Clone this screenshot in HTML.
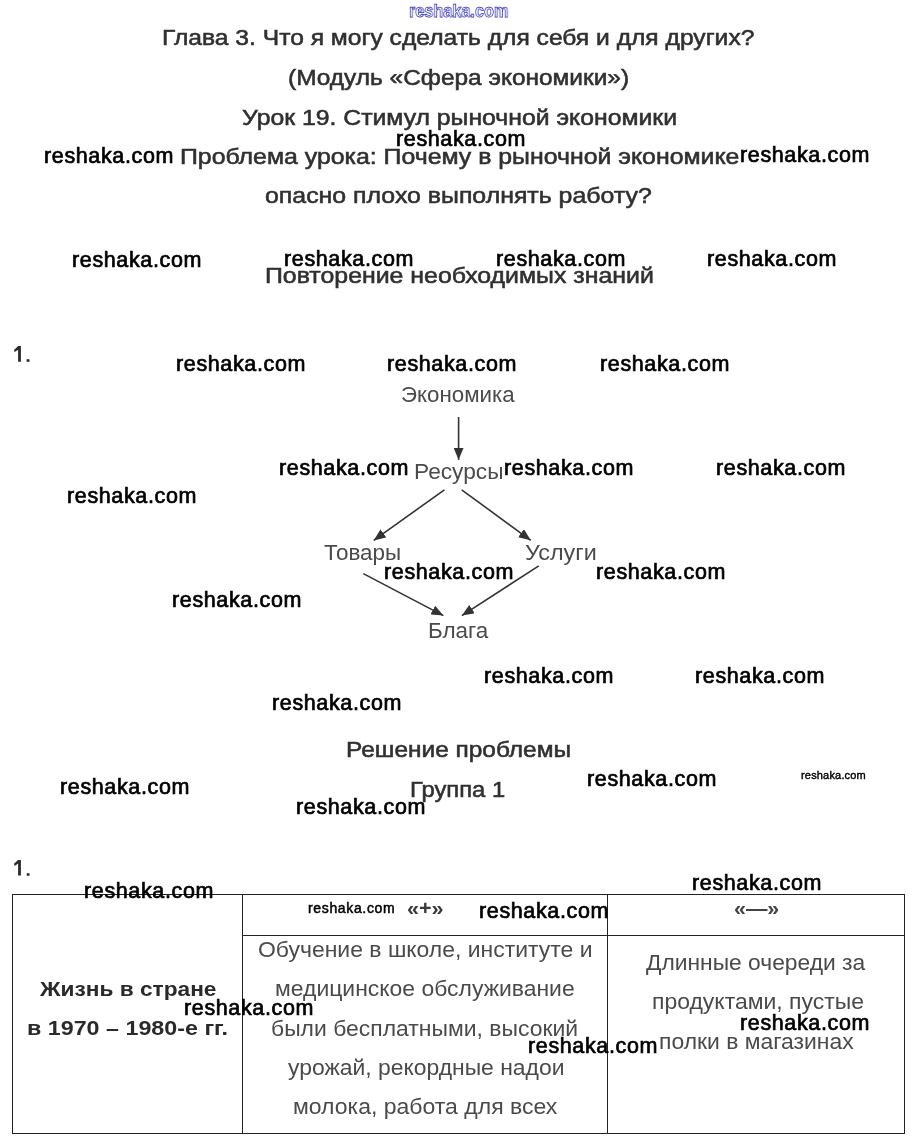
<!DOCTYPE html>
<html><head><meta charset="utf-8"><title>Урок 19. Стимул рыночной экономики</title>
<style>
html,body{margin:0;padding:0;background:#fff;}
body{width:915px;height:1144px;position:relative;overflow:hidden;font-family:"Liberation Sans",sans-serif;}
.t{position:absolute;white-space:pre;transform-origin:0 0;will-change:transform;}
.g{position:absolute;left:0;top:0;}
</style></head><body>
<svg class="g" width="915" height="1144" viewBox="0 0 915 1144">
<defs><marker id="ah" viewBox="0 0 12 10" refX="12" refY="5" markerWidth="12" markerHeight="10" markerUnits="userSpaceOnUse" orient="auto"><path d="M0,0 L12,5 L0,10 z" fill="#333"/></marker></defs>
<g stroke="#333" stroke-width="1.6" fill="none" marker-end="url(#ah)">
<line x1="458.6" y1="417" x2="458.6" y2="459.8"/>
<line x1="444.4" y1="489.8" x2="373.7" y2="540.4"/>
<line x1="461.7" y1="489.8" x2="530.7" y2="540.3"/>
<line x1="363.3" y1="573.6" x2="443.4" y2="615.6"/>
<line x1="538.8" y1="565.9" x2="461.9" y2="615.6"/>
</g>
<g fill="#222">
<rect x="12" y="894" width="893" height="1"/>
<rect x="12" y="1133" width="893" height="1"/>
<rect x="12" y="894" width="1" height="240"/>
<rect x="904" y="894" width="1" height="240"/>
<rect x="242" y="894" width="1" height="240"/>
<rect x="607" y="894" width="1" height="240"/>
<rect x="242" y="935" width="663" height="1"/>
</g>
<g fill="#2a2a2a">
<path d="M18.1,346 L20.9,346 L20.9,361.7 L18.1,361.7 L18.1,349.7 L14.7,352.1 L14.0,349.9 Z"/>
<rect x="26.6" y="359.2" width="2.9" height="2.6"/>
<path transform="translate(0,513.9)" d="M18.1,346 L20.9,346 L20.9,361.7 L18.1,361.7 L18.1,349.7 L14.7,352.1 L14.0,349.9 Z"/>
<rect x="26.8" y="873.2" width="2.7" height="2.6"/>
</g>
</svg>
<div class="t" style="left:161.88px;top:27.00px;font-size:22px;line-height:22px;color:#303030;transform:scaleX(1.1193);-webkit-text-stroke:0.55px #303030;">Глава 3. Что я могу сделать для себя и для других?</div>
<div class="t" style="left:288.39px;top:67.00px;font-size:22px;line-height:22px;color:#303030;transform:scaleX(1.1108);-webkit-text-stroke:0.55px #303030;">(Модуль «Сфера экономики»)</div>
<div class="t" style="left:241.50px;top:106.70px;font-size:22px;line-height:22px;color:#303030;transform:scaleX(1.1262);-webkit-text-stroke:0.55px #303030;">Урок 19. Стимул рыночной экономики</div>
<div class="t" style="left:179.87px;top:145.60px;font-size:22px;line-height:22px;color:#303030;transform:scaleX(1.1296);-webkit-text-stroke:0.55px #303030;">Проблема урока: Почему в рыночной экономике</div>
<div class="t" style="left:265.00px;top:185.30px;font-size:22px;line-height:22px;color:#303030;transform:scaleX(1.1307);-webkit-text-stroke:0.55px #303030;">опасно плохо выполнять работу?</div>
<div class="t" style="left:265.17px;top:264.60px;font-size:22px;line-height:22px;color:#303030;transform:scaleX(1.1304);-webkit-text-stroke:0.55px #303030;">Повторение необходимых знаний</div>
<div class="t" style="left:400.99px;top:383.80px;font-size:22px;line-height:22px;color:#4a4a4a;transform:scaleX(1.0150);">Экономика</div>
<div class="t" style="left:413.97px;top:461.20px;font-size:22px;line-height:22px;color:#4a4a4a;transform:scaleX(1.0314);">Ресурсы</div>
<div class="t" style="left:323.80px;top:542.30px;font-size:22px;line-height:22px;color:#4a4a4a;transform:scaleX(1.0205);">Товары</div>
<div class="t" style="left:524.80px;top:542.20px;font-size:22px;line-height:22px;color:#4a4a4a;transform:scaleX(1.0608);">Услуги</div>
<div class="t" style="left:427.68px;top:620.40px;font-size:22px;line-height:22px;color:#4a4a4a;transform:scaleX(1.0203);">Блага</div>
<div class="t" style="left:345.89px;top:738.70px;font-size:22px;line-height:22px;color:#303030;transform:scaleX(1.1105);-webkit-text-stroke:0.55px #303030;">Решение проблемы</div>
<div class="t" style="left:410.12px;top:778.60px;font-size:22px;line-height:22px;color:#303030;transform:scaleX(1.0801);-webkit-text-stroke:0.55px #303030;">Группа 1</div>
<div class="t" style="left:406.60px;top:897.30px;font-size:21px;line-height:21px;font-weight:bold;color:#3a3a3a;transform:scaleX(1.0274);">«+»</div>
<div class="t" style="left:734.10px;top:897.30px;font-size:21px;line-height:21px;font-weight:bold;color:#444;transform:scaleX(1.0211);">«—»</div>
<div class="t" style="left:40.28px;top:977.80px;font-size:21px;line-height:21px;font-weight:bold;color:#2a2a2a;transform:scaleX(1.0803);">Жизнь в стране</div>
<div class="t" style="left:27.29px;top:1016.70px;font-size:21px;line-height:21px;font-weight:bold;color:#2a2a2a;transform:scaleX(1.1085);">в 1970 – 1980-е гг.</div>
<div class="t" style="left:257.73px;top:939.80px;font-size:21.5px;line-height:21.5px;color:#4a4a4a;transform:scaleX(1.0675);">Обучение в школе, институте и</div>
<div class="t" style="left:274.83px;top:979.20px;font-size:21.5px;line-height:21.5px;color:#4a4a4a;transform:scaleX(1.0665);">медицинское обслуживание</div>
<div class="t" style="left:271.43px;top:1018.50px;font-size:21.5px;line-height:21.5px;color:#4a4a4a;transform:scaleX(1.0665);">были бесплатными, высокий</div>
<div class="t" style="left:287.50px;top:1057.80px;font-size:21.5px;line-height:21.5px;color:#4a4a4a;transform:scaleX(1.0650);">урожай, рекордные надои</div>
<div class="t" style="left:293.13px;top:1097.10px;font-size:21.5px;line-height:21.5px;color:#4a4a4a;transform:scaleX(1.0704);">молока, работа для всех</div>
<div class="t" style="left:646.40px;top:952.70px;font-size:21.5px;line-height:21.5px;color:#4a4a4a;transform:scaleX(1.0609);">Длинные очереди за</div>
<div class="t" style="left:651.53px;top:991.60px;font-size:21.5px;line-height:21.5px;color:#4a4a4a;transform:scaleX(1.0680);">продуктами, пустые</div>
<div class="t" style="left:659.44px;top:1031.60px;font-size:21.5px;line-height:21.5px;color:#4a4a4a;transform:scaleX(1.0650);">полки в магазинах</div>
<div class="t" style="left:409.30px;top:2.00px;font-size:18px;line-height:18px;font-weight:bold;color:#fff;transform:scaleX(0.9032);-webkit-text-stroke:0.75px #2222b0;">reshaka.com</div>
<div class="t" style="left:396.30px;top:129.20px;font-size:21.5px;line-height:21.5px;color:#000;letter-spacing:0.633px;-webkit-text-stroke:0.7px #000;">reshaka.com</div>
<div class="t" style="left:44.00px;top:146.00px;font-size:21.5px;line-height:21.5px;color:#000;letter-spacing:0.633px;-webkit-text-stroke:0.7px #000;">reshaka.com</div>
<div class="t" style="left:740.20px;top:145.30px;font-size:21.5px;line-height:21.5px;color:#000;letter-spacing:0.633px;-webkit-text-stroke:0.7px #000;">reshaka.com</div>
<div class="t" style="left:72.00px;top:249.50px;font-size:21.5px;line-height:21.5px;color:#000;letter-spacing:0.633px;-webkit-text-stroke:0.7px #000;">reshaka.com</div>
<div class="t" style="left:284.00px;top:249.30px;font-size:21.5px;line-height:21.5px;color:#000;letter-spacing:0.633px;-webkit-text-stroke:0.7px #000;">reshaka.com</div>
<div class="t" style="left:496.00px;top:249.40px;font-size:21.5px;line-height:21.5px;color:#000;letter-spacing:0.633px;-webkit-text-stroke:0.7px #000;">reshaka.com</div>
<div class="t" style="left:707.00px;top:249.40px;font-size:21.5px;line-height:21.5px;color:#000;letter-spacing:0.633px;-webkit-text-stroke:0.7px #000;">reshaka.com</div>
<div class="t" style="left:175.50px;top:353.60px;font-size:21.5px;line-height:21.5px;color:#000;letter-spacing:0.633px;-webkit-text-stroke:0.7px #000;">reshaka.com</div>
<div class="t" style="left:387.00px;top:353.60px;font-size:21.5px;line-height:21.5px;color:#000;letter-spacing:0.633px;-webkit-text-stroke:0.7px #000;">reshaka.com</div>
<div class="t" style="left:599.50px;top:354.00px;font-size:21.5px;line-height:21.5px;color:#000;letter-spacing:0.633px;-webkit-text-stroke:0.7px #000;">reshaka.com</div>
<div class="t" style="left:279.40px;top:457.80px;font-size:21.5px;line-height:21.5px;color:#000;letter-spacing:0.633px;-webkit-text-stroke:0.7px #000;">reshaka.com</div>
<div class="t" style="left:504.00px;top:457.80px;font-size:21.5px;line-height:21.5px;color:#000;letter-spacing:0.633px;-webkit-text-stroke:0.7px #000;">reshaka.com</div>
<div class="t" style="left:716.00px;top:457.80px;font-size:21.5px;line-height:21.5px;color:#000;letter-spacing:0.633px;-webkit-text-stroke:0.7px #000;">reshaka.com</div>
<div class="t" style="left:67.40px;top:485.50px;font-size:21.5px;line-height:21.5px;color:#000;letter-spacing:0.633px;-webkit-text-stroke:0.7px #000;">reshaka.com</div>
<div class="t" style="left:384.20px;top:561.80px;font-size:21.5px;line-height:21.5px;color:#000;letter-spacing:0.633px;-webkit-text-stroke:0.7px #000;">reshaka.com</div>
<div class="t" style="left:595.80px;top:562.00px;font-size:21.5px;line-height:21.5px;color:#000;letter-spacing:0.633px;-webkit-text-stroke:0.7px #000;">reshaka.com</div>
<div class="t" style="left:171.50px;top:589.60px;font-size:21.5px;line-height:21.5px;color:#000;letter-spacing:0.633px;-webkit-text-stroke:0.7px #000;">reshaka.com</div>
<div class="t" style="left:484.00px;top:665.60px;font-size:21.5px;line-height:21.5px;color:#000;letter-spacing:0.633px;-webkit-text-stroke:0.7px #000;">reshaka.com</div>
<div class="t" style="left:695.40px;top:665.60px;font-size:21.5px;line-height:21.5px;color:#000;letter-spacing:0.633px;-webkit-text-stroke:0.7px #000;">reshaka.com</div>
<div class="t" style="left:271.60px;top:693.20px;font-size:21.5px;line-height:21.5px;color:#000;letter-spacing:0.633px;-webkit-text-stroke:0.7px #000;">reshaka.com</div>
<div class="t" style="left:59.50px;top:777.10px;font-size:21.5px;line-height:21.5px;color:#000;letter-spacing:0.633px;-webkit-text-stroke:0.7px #000;">reshaka.com</div>
<div class="t" style="left:587.00px;top:769.20px;font-size:21.5px;line-height:21.5px;color:#000;letter-spacing:0.633px;-webkit-text-stroke:0.7px #000;">reshaka.com</div>
<div class="t" style="left:295.60px;top:797.20px;font-size:21.5px;line-height:21.5px;color:#000;letter-spacing:0.633px;-webkit-text-stroke:0.7px #000;">reshaka.com</div>
<div class="t" style="left:84.00px;top:880.90px;font-size:21.5px;line-height:21.5px;color:#000;letter-spacing:0.633px;-webkit-text-stroke:0.7px #000;">reshaka.com</div>
<div class="t" style="left:692.00px;top:873.30px;font-size:21.5px;line-height:21.5px;color:#000;letter-spacing:0.633px;-webkit-text-stroke:0.7px #000;">reshaka.com</div>
<div class="t" style="left:478.60px;top:900.80px;font-size:21.5px;line-height:21.5px;color:#000;letter-spacing:0.633px;-webkit-text-stroke:0.7px #000;">reshaka.com</div>
<div class="t" style="left:184.30px;top:997.60px;font-size:21.5px;line-height:21.5px;color:#000;letter-spacing:0.633px;-webkit-text-stroke:0.7px #000;">reshaka.com</div>
<div class="t" style="left:740.20px;top:1012.80px;font-size:21.5px;line-height:21.5px;color:#000;letter-spacing:0.633px;-webkit-text-stroke:0.7px #000;">reshaka.com</div>
<div class="t" style="left:528.00px;top:1035.90px;font-size:21.5px;line-height:21.5px;color:#000;letter-spacing:0.633px;-webkit-text-stroke:0.7px #000;">reshaka.com</div>
<div class="t" style="left:800.60px;top:769.70px;font-size:11px;line-height:11px;color:#000;letter-spacing:0.179px;-webkit-text-stroke:0.4px #000;">reshaka.com</div>
<div class="t" style="left:308.40px;top:901.00px;font-size:14px;line-height:14px;color:#000;letter-spacing:0.652px;-webkit-text-stroke:0.5px #000;">reshaka.com</div>
</body></html>
